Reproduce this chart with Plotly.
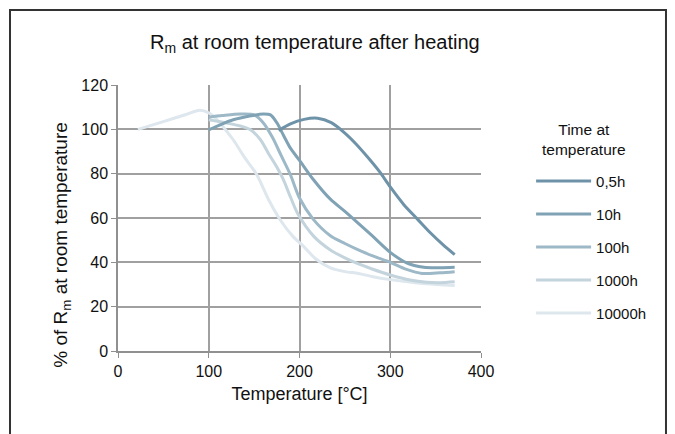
import plotly.graph_objects as go

# ---------------- data ----------------
series_names = ["0,5h", "10h", "100h", "1000h", "10000h"]

t_05h = [177, 190, 205, 220, 235, 250, 262, 275, 288, 300, 315, 330, 345, 358, 371]
v_05h = [99.5, 102.5, 104.5, 105.0, 103.0, 98.3, 93.5, 87.5, 81.0, 74.0, 66.0, 59.5, 53.0, 48.0, 43.5]

t_10h = [100, 115, 127, 145, 160, 168, 175, 183, 190, 200, 215, 234, 250, 263, 280, 300, 318, 337, 355, 371]
v_10h = [99.8, 102.5, 104.3, 106.0, 106.9, 106.5, 103.0, 96.8, 91.5, 86.0, 77.5, 68.5, 63.0, 58.3, 52.0, 44.5, 39.8, 37.8, 37.6, 37.8]

t_100h = [100, 115, 135, 150, 160, 170, 180, 190, 200, 215, 234, 250, 263, 280, 300, 318, 335, 355, 371]
v_100h = [105.5, 106.2, 106.9, 106.5, 103.0, 96.5, 88.0, 79.5, 69.0, 59.5, 52.0, 48.5, 46.0, 43.0, 40.0, 36.8, 35.0, 35.3, 35.8]

t_1000h = [100, 120, 135, 146, 157, 166, 175, 182, 190, 198, 216, 234, 250, 263, 280, 300, 322, 340, 355, 371]
v_1000h = [104.3, 102.8, 101.5, 99.8, 95.3, 89.0, 83.0, 77.5, 69.5, 62.0, 51.6, 45.6, 42.0, 39.6, 37.0, 34.3, 32.0, 31.0, 30.8, 31.2]

t_10000h = [22, 50, 75, 90, 100, 110, 120, 127, 140, 153, 166, 179, 193, 205, 218, 234, 250, 265, 281, 300, 318, 340, 371]
v_10000h = [100.0, 103.5, 106.7, 108.6, 107.4, 104.0, 99.0, 95.3, 87.0, 79.5, 68.2, 59.0, 51.6, 47.0, 41.5, 37.5, 35.8, 35.0, 33.5, 32.2, 31.3, 30.3, 29.5]

x_ticks = [0, 100, 200, 300, 400]
y_ticks = [0, 20, 40, 60, 80, 100, 120]

colors = ["#6e93a9", "#80a2b5", "#9db8c7", "#c3d4dd", "#dde7ed"]

all_t = [t_05h, t_10h, t_100h, t_1000h, t_10000h]
all_v = [v_05h, v_10h, v_100h, v_1000h, v_10000h]

FONT = "Liberation Sans, Arial, sans-serif"

fig = go.Figure()
# draw lightest first so darker lines are on top
for i in reversed(range(len(series_names))):
    fig.add_trace(go.Scatter(
        x=all_t[i], y=all_v[i], name=series_names[i], mode="lines",
        line=dict(color=colors[i], width=3, shape="spline", smoothing=0.8),
        legendgroup=series_names[i], legendrank=i + 1,
    ))

# figure is 8px smaller than the window: the page body has an 8px margin
fig.update_layout(
    width=667, height=426,
    margin=dict(l=110, r=194, t=77, b=83),
    paper_bgcolor="white", plot_bgcolor="white",
    font=dict(family=FONT, color="#111111", size=16),
    title=dict(text="R<sub>m</sub> at room temperature after heating",
               x=0.460, y=0.920, xanchor="center", yanchor="middle",
               font=dict(size=20, family=FONT, color="#111111")),
    showlegend=True,
    legend=dict(x=1.138, y=0.70, xanchor="left", yanchor="top",
                font=dict(size=15, family=FONT), tracegroupgap=10.5,
                itemwidth=55, bgcolor="rgba(0,0,0,0)"),
    xaxis=dict(range=[0, 400], tickvals=x_ticks, showgrid=True, gridcolor="#a0a0a0",
               gridwidth=1.5, showline=True, linecolor="#909090", linewidth=1.5,
               ticks="outside", ticklen=5, tickcolor="#909090", zeroline=False,
               tickfont=dict(size=16),
               title=dict(text="Temperature [°C]", font=dict(size=18), standoff=8)),
    yaxis=dict(range=[0, 120], tickvals=y_ticks, showgrid=True, gridcolor="#a0a0a0",
               gridwidth=1.5, showline=True, linecolor="#909090", linewidth=1.5,
               ticks="outside", ticklen=5, tickcolor="#909090", zeroline=False,
               tickfont=dict(size=16)),
    shapes=[dict(type="rect", xref="paper", yref="paper",
                 x0=-0.2975, x1=1.5096, y0=-0.34, y1=1.282,
                 line=dict(color="#333333", width=2), layer="below")],
    annotations=[
        dict(text="% of R<sub>m</sub> at room temperature", textangle=-90,
             xref="paper", yref="paper", x=-0.154, y=0.40, showarrow=False,
             xanchor="center", yanchor="middle", font=dict(size=19)),
        dict(text="Time at<br>temperature", xref="paper", yref="paper",
             x=1.285, y=0.795, showarrow=False, xanchor="center", yanchor="middle",
             font=dict(size=15.5)),
    ],
)

fig.write_html("out.html")
